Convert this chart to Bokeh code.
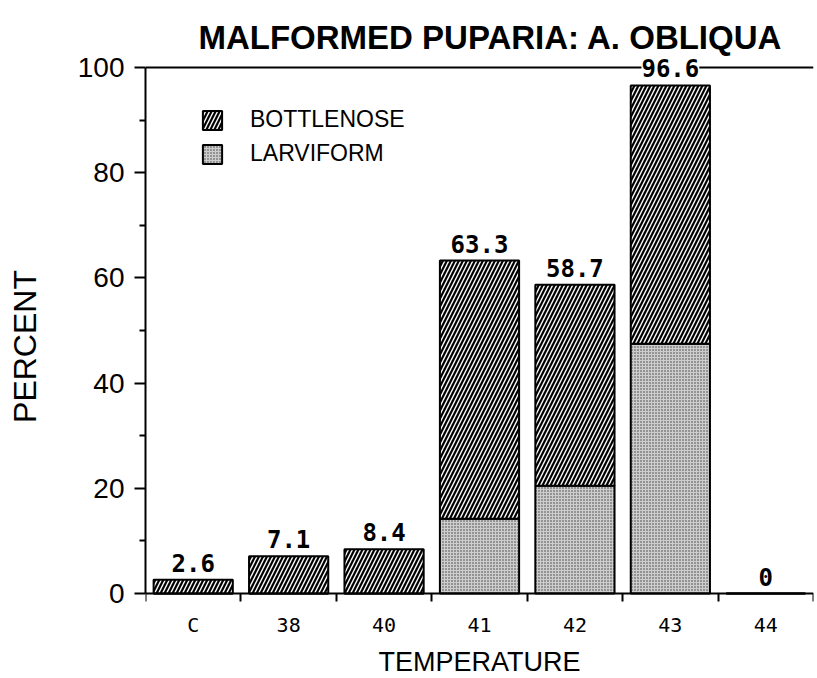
from bokeh.plotting import figure
from bokeh.models import (ColumnDataSource, FixedTicker, LabelSet, Label, Legend,
                          LegendItem, Range1d, Span)
from bokeh.core.properties import value
from bokeh.embed import file_html
from bokeh.resources import INLINE

# ---- data ----
title_text = "MALFORMED PUPARIA: A. OBLIQUA"
temperatures = ["C", "38", "40", "41", "42", "43", "44"]
larviform = [0.0, 0.0, 0.0, 14.2, 20.5, 47.5, 0.0]
bottlenose = [2.6, 7.1, 8.4, 49.1, 38.2, 49.1, 0.0]
totals = [2.6, 7.1, 8.4, 63.3, 58.7, 96.6, 0.0]
y_ticks = [0, 20, 40, 60, 80, 100]
y_minor_ticks = [10, 30, 50, 70, 90]
y_max = 100

positions = [i + 0.5 for i in range(len(temperatures))]
source = ColumnDataSource(dict(
    x=positions,
    larviform=larviform,
    bottlenose=bottlenose,
    total=totals,
    label=[f"{v:g}" for v in totals],
))

# frame spans the whole height below the title; the x axis sits at y = 0
p = figure(width=817, height=678, output_backend="svg", toolbar_location=None,
           x_range=Range1d(0, len(temperatures)), y_range=Range1d(-16.16, 110.08),
           min_border_left=145, min_border_right=4, min_border_top=14,
           min_border_bottom=0)

p.grid.visible = False
p.outline_line_color = None
p.background_fill_color = "white"
p.border_fill_color = "white"

renderers = p.vbar_stack(
    ["larviform", "bottlenose"], x="x", width=0.83, source=source,
    fill_color=["#cdcdcd", "black"],
    hatch_pattern=["dot", "right_diagonal_line"],
    hatch_color=["#3a3a3a", "white"],
    hatch_scale=[3.0, 8.0],
    hatch_weight=[1.0, 1.4],
    line_color="black", line_width=2,
)

# top frame line at 100 %
top_line = Span(location=y_max, dimension="width", line_color="black", line_width=2)
p.add_layout(top_line)

labels = LabelSet(x="x", y="total", text="label", source=source,
                  text_align="center", text_baseline="alphabetic", y_offset=8,
                  text_font=value("DejaVu Sans Mono"), text_font_style="bold",
                  text_font_size="24px", text_color="black",
                  background_fill_color="white")
p.add_layout(labels)

title = Label(x=len(temperatures) / 2, y=y_max, x_offset=11, y_offset=30,
              text=title_text, text_align="center", text_baseline="alphabetic",
              text_font="Liberation Sans", text_font_style="bold",
              text_font_size="33px", text_color="black")
p.add_layout(title)

legend = Legend(items=[LegendItem(label="BOTTLENOSE", renderers=[renderers[1]]),
                       LegendItem(label="LARVIFORM", renderers=[renderers[0]])],
                location=(55, 511), orientation="vertical",
                glyph_width=24, glyph_height=24, spacing=7, label_standoff=26,
                label_height=24,
                padding=0, margin=0, border_line_color=None,
                background_fill_alpha=0,
                label_text_font="Liberation Sans", label_text_font_size="23px",
                label_text_color="black")
p.add_layout(legend)

# y axis
p.yaxis.bounds = (0, y_max)
p.yaxis.ticker = FixedTicker(ticks=y_ticks, minor_ticks=y_minor_ticks)
p.yaxis.major_tick_out = 11
p.yaxis.major_tick_in = 0
p.yaxis.minor_tick_out = 6
p.yaxis.minor_tick_in = 0
p.yaxis.axis_line_width = 2
p.yaxis.major_tick_line_width = 2
p.yaxis.minor_tick_line_width = 2
p.yaxis.major_label_text_font = "Liberation Sans"
p.yaxis.major_label_text_font_size = "28px"
p.yaxis.major_label_text_color = "black"
p.yaxis.major_label_standoff = 10
p.yaxis.axis_label = "PERCENT"
p.yaxis.axis_label_text_font = "Liberation Sans"
p.yaxis.axis_label_text_font_size = "32px"
p.yaxis.axis_label_text_font_style = "normal"
p.yaxis.axis_label_text_color = "black"
p.yaxis.axis_label_standoff = 32

# x axis, drawn at y = 0
boundaries = list(range(len(temperatures) + 1))
p.xaxis.fixed_location = 0
p.xaxis.ticker = FixedTicker(ticks=positions, minor_ticks=boundaries)
p.xaxis.major_label_overrides = {pos: t for pos, t in zip(positions, temperatures)}
p.xaxis.major_tick_out = 0
p.xaxis.major_tick_in = 0
p.xaxis.minor_tick_out = 8
p.xaxis.minor_tick_in = 0
p.xaxis.minor_tick_line_width = 2
p.xaxis.axis_line_width = 2
p.xaxis.major_label_text_font = "DejaVu Sans Mono"
p.xaxis.major_label_text_font_size = "20px"
p.xaxis.major_label_text_color = "black"
p.xaxis.major_label_standoff = 11
p.xaxis.axis_label = "TEMPERATURE"
p.xaxis.axis_label_text_font = "Liberation Sans"
p.xaxis.axis_label_text_font_size = "27px"
p.xaxis.axis_label_text_font_style = "normal"
p.xaxis.axis_label_text_color = "black"
p.xaxis.axis_label_standoff = 7

open("out.html", "w").write(file_html(p, INLINE))
